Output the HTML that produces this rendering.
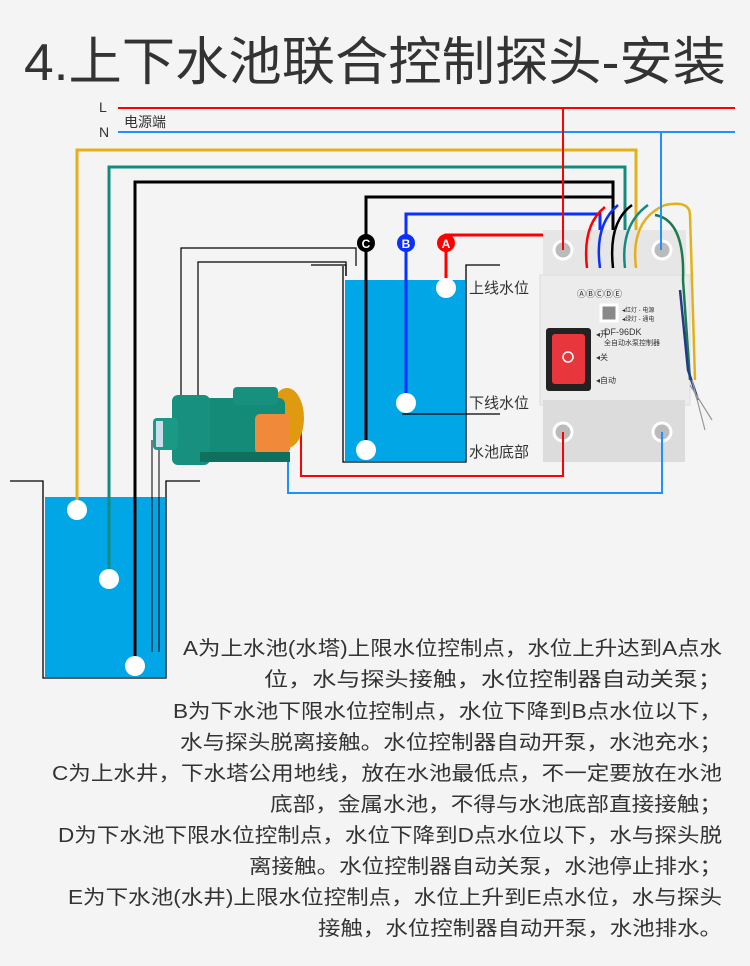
<!DOCTYPE html>
<html><head><meta charset="utf-8"><style>
body{margin:0;background:#f4f4f4;}
svg{display:block}
text{font-family:"Liberation Sans","Noto Sans CJK SC",sans-serif;fill:#333}
</style></head><body>
<svg width="750" height="966" viewBox="0 0 750 966" xmlns="http://www.w3.org/2000/svg">
<rect width="750" height="966" fill="#f4f4f4"/>
<text x="24" y="80" font-size="52" textLength="702" lengthAdjust="spacingAndGlyphs">4.上下水池联合控制探头-安装</text>
<text x="99" y="112" font-size="14">L</text>
<text x="99" y="137" font-size="14">N</text>
<text x="124" y="127" font-size="14">电源端</text>
<line x1="118" y1="108" x2="735" y2="108" stroke="#f00" stroke-width="2"/>
<line x1="118" y1="132" x2="735" y2="132" stroke="#1e90ff" stroke-width="2"/>
<!-- upper tank -->
<rect x="345" y="280" width="120" height="181" fill="#00a6e6"/>
<path d="M343 266V462H466V265H500" fill="none" stroke="#000" stroke-width="1.3"/>
<path d="M311 265H346V276" fill="none" stroke="#000" stroke-width="1.3"/>
<path d="M181 420V248H356V266" fill="none" stroke="#000" stroke-width="1.2"/>
<path d="M198 420V262H346V276" fill="none" stroke="#000" stroke-width="1.2"/>
<line x1="402" y1="414" x2="500" y2="414" stroke="#000" stroke-width="1.3"/>
<text x="469" y="293" font-size="15">上线水位</text>
<text x="469" y="408" font-size="15">下线水位</text>
<text x="469" y="457" font-size="15">水池底部</text>
<!-- lower tank -->
<rect x="45" y="497" width="120" height="180" fill="#00a6e6"/>
<path d="M10 481H43V678H166V481H200" fill="none" stroke="#000" stroke-width="1.3"/>
<line x1="152" y1="440" x2="152" y2="652" stroke="#000" stroke-width="1"/>
<line x1="159" y1="440" x2="159" y2="652" stroke="#000" stroke-width="1"/>
<!-- wires -->
<path d="M77 510V150H636V268" fill="none" stroke="#e4b01a" stroke-width="3"/>
<path d="M109 579V167H625V268" fill="none" stroke="#138a80" stroke-width="3"/>
<path d="M135 666V182H613V268" fill="none" stroke="#000" stroke-width="3"/>
<path d="M366 450V197H613" fill="none" stroke="#000" stroke-width="3"/>
<path d="M406 403V214H600V268" fill="none" stroke="#0a2fff" stroke-width="3"/>
<path d="M446 288V235H587V268" fill="none" stroke="#f00" stroke-width="3"/>
<!-- device -->
<rect x="543" y="230" width="143" height="55" fill="#e6e6e6"/>
<rect x="540" y="275" width="150" height="130" fill="#ececec" stroke="#ddd"/>
<rect x="543" y="400" width="142" height="62" fill="#dcdcdc"/>
<circle cx="563" cy="250" r="9" fill="#bbb" stroke="#fff" stroke-width="3"/>
<circle cx="662" cy="250" r="9" fill="#bbb" stroke="#fff" stroke-width="3"/>
<circle cx="563" cy="432" r="9" fill="#bbb" stroke="#fff" stroke-width="3"/>
<circle cx="662" cy="432" r="9" fill="#bbb" stroke="#fff" stroke-width="3"/>
<text x="577" y="297" font-size="9" fill="#777">ⒶⒷⒸⒹⒺ</text>
<rect x="601" y="305" width="16" height="16" fill="#888" stroke="#fff" stroke-width="3"/>
<text x="622" y="312" font-size="6">◂红灯 - 电源</text>
<text x="622" y="321" font-size="6">◂绿灯 - 通电</text>
<text x="604" y="335" font-size="9" fill="#666">DF-96DK</text>
<text x="604" y="345" font-size="7" fill="#666">全自动水泵控制器</text>
<rect x="546" y="328" width="45" height="63" rx="3" fill="#222"/>
<rect x="552" y="334" width="33" height="50" rx="3" fill="#e8373c"/>
<circle cx="568" cy="357" r="5" fill="none" stroke="#fff" stroke-width="1.5"/>
<text x="596" y="337" font-size="8">◂开</text>
<text x="596" y="360" font-size="8">◂关</text>
<text x="596" y="383" font-size="8">◂自动</text>
<g fill="none" stroke-width="2.5">
<path d="M587 268Q582 225 605 207" stroke="#f00"/>
<path d="M600 268Q594 225 618 205" stroke="#0a2fff"/>
<path d="M613 268Q608 222 632 205" stroke="#000"/>
<path d="M625 268Q620 225 648 205" stroke="#138a80"/>
<path d="M636 268Q630 220 665 205Q690 200 690 215L695 380" stroke="#e4b01a"/>
<path d="M655 215Q685 220 683 280L690 380" stroke="#1d7a50"/>
<path d="M680 290L688 370L698 400" stroke="#233a8a"/>
</g>
<path d="M692 380L705 430M690 385L712 420" stroke="#999" stroke-width="1.2"/>
<path d="M563 108V250" stroke="#f00" stroke-width="2"/>
<path d="M661 132V250" stroke="#1e90ff" stroke-width="2"/>
<path d="M563 432V476H301V420" fill="none" stroke="#f00" stroke-width="2"/>
<path d="M662 432V493H288V420" fill="none" stroke="#1e90ff" stroke-width="2"/>
<!-- pump -->
<ellipse cx="287" cy="418" rx="17" ry="30" fill="#e09a10"/>
<rect x="205" y="398" width="80" height="55" rx="6" fill="#148a78"/>
<rect x="233" y="387" width="45" height="18" rx="4" fill="#179080"/>
<rect x="172" y="395" width="38" height="70" rx="6" fill="#179080"/>
<rect x="153" y="418" width="25" height="32" rx="4" fill="#1a9a86"/>
<rect x="156" y="421" width="7" height="26" fill="#cde"/>
<rect x="255" y="414" width="35" height="40" rx="5" fill="#f08a3a"/>
<rect x="200" y="452" width="90" height="10" fill="#0f7060"/>
<!-- balls -->
<g fill="#fff">
<circle cx="366" cy="243" r="9" fill="#000"/><circle cx="406" cy="243" r="9" fill="#0a2fff"/><circle cx="446" cy="243" r="9" fill="#f00"/>
<circle cx="446" cy="288" r="10"/><circle cx="406" cy="403" r="10"/><circle cx="366" cy="450" r="10"/>
<circle cx="77" cy="510" r="10"/><circle cx="109" cy="579" r="10"/><circle cx="135" cy="666" r="10"/>
</g>
<g font-size="12" font-weight="bold" text-anchor="middle">
<text x="366" y="248" style="fill:#fff">C</text><text x="406" y="248" style="fill:#fff">B</text><text x="446" y="248" style="fill:#fff">A</text>
</g>
<g font-size="20" lengthAdjust="spacingAndGlyphs">
<text x="183" y="655" textLength="539" lengthAdjust="spacingAndGlyphs">A为上水池(水塔)上限水位控制点，水位上升达到A点水</text>
<text x="264" y="686" textLength="458" lengthAdjust="spacingAndGlyphs">位，水与探头接触，水位控制器自动关泵；</text>
<text x="173" y="718" textLength="549" lengthAdjust="spacingAndGlyphs">B为下水池下限水位控制点，水位下降到B点水位以下，</text>
<text x="180" y="749" textLength="542" lengthAdjust="spacingAndGlyphs">水与探头脱离接触。水位控制器自动开泵，水池充水；</text>
<text x="52" y="780" textLength="670" lengthAdjust="spacingAndGlyphs">C为上水井，下水塔公用地线，放在水池最低点，不一定要放在水池</text>
<text x="270" y="811" textLength="452" lengthAdjust="spacingAndGlyphs">底部，金属水池，不得与水池底部直接接触；</text>
<text x="58" y="842" textLength="664" lengthAdjust="spacingAndGlyphs">D为下水池下限水位控制点，水位下降到D点水位以下，水与探头脱</text>
<text x="249" y="873" textLength="473" lengthAdjust="spacingAndGlyphs">离接触。水位控制器自动关泵，水池停止排水；</text>
<text x="68" y="904" textLength="654" lengthAdjust="spacingAndGlyphs">E为下水池(水井)上限水位控制点，水位上升到E点水位，水与探头</text>
<text x="318" y="935" textLength="404" lengthAdjust="spacingAndGlyphs">接触，水位控制器自动开泵，水池排水。</text>
</g>
</svg>
</body></html>
